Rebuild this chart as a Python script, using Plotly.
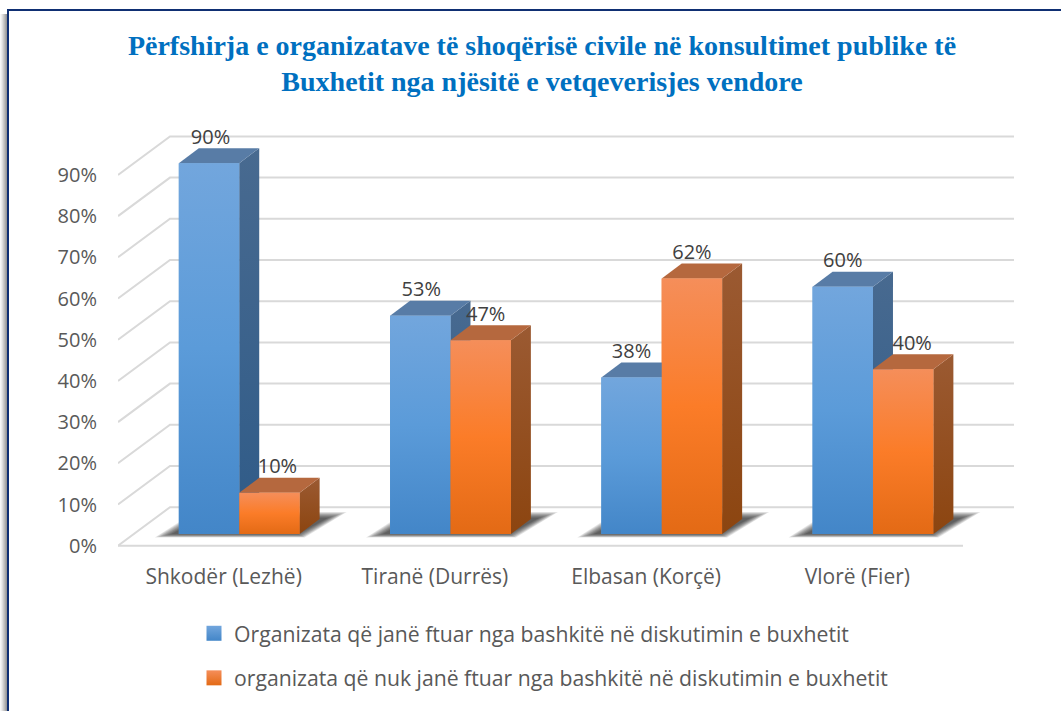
import plotly.graph_objects as go

categories = ["Shkodër (Lezhë)", "Tiranë (Durrës)", "Elbasan (Korçë)", "Vlorë (Fier)"]
invited = [90, 53, 38, 60]
not_invited = [10, 47, 62, 40]
y_ticks = [0, 10, 20, 30, 40, 50, 60, 70, 80, 90]
y_tick_labels = [f"{v}%" for v in y_ticks]
title_lines = ["Përfshirja e organizatave të shoqërisë civile në konsultimet publike të",
               "Buxhetit nga njësitë e vetqeverisjes vendore"]
name_invited = "Organizata që janë ftuar nga bashkitë në diskutimin e buxhetit"
name_not_invited = "organizata që nuk janë ftuar nga bashkitë në diskutimin e buxhetit"

W, H = 1061, 711
# scales (pixels per data unit) and pseudo-3D offsets
PX_X, PX_Y = 211.25, 4.12
FLOOR_L, FLOOR_Y = 118.0, 545.7
WALL_R = 1014.0
BAR_DX, BAR_DY = 15.6, 11.7        # bar plane relative to the front edge of the floor
WALL_DX, WALL_DY = 52.0, 38.5      # back wall relative to the front edge of the floor
DEPTH_DX, DEPTH_DY = 20.0, 15.0    # depth of the bars
BAR_W = 60.4 / PX_X
X0, X1 = -0.5, -0.5 + (WALL_R + 20 - FLOOR_L) / PX_X
Y0, Y1 = -2.0, 101.0

dom_x = lambda dx: [(FLOOR_L + dx) / W, (FLOOR_L + dx + (X1 - X0) * PX_X) / W]
dom_y = lambda dy: [(H - FLOOR_Y - (-Y0) * PX_Y + dy) / H, (H - FLOOR_Y + Y1 * PX_Y + dy) / H]

TEXT = "#595959"
GRID = "#d9d9d9"
LABEL = "#404040"
FONT = "Open Sans"
STY = {
    "blue": dict(front=["#4386c8", "#5b9bd9", "#72a6dd"], side=["#2f5b88", "#486a90"], top="#587ca6", solid="#5b9bd5"),
    "orange": dict(front=["#e36a15", "#fb7c28", "#f58e5a"], side=["#8c4510", "#9b5a32"], top="#b5683e", solid="#ed7d31"),
}
LABEL_NUDGE = {"blue": [1.5, 1, 0, 0], "orange": [8, 5, 0, 9]}

fig = go.Figure()

# ---- wall and floor grid, on the back axes
wx0 = X0 + WALL_DX / PX_X
wx1 = X0 + (WALL_R - FLOOR_L) / PX_X
wy = WALL_DY / PX_Y
gx, gy = [], []
for t in y_ticks:
    gx += [X0, wx0, wx1, None]
    gy += [t, t + wy, t + wy, None]
gx += [X0, X0 + (963 - FLOOR_L) / PX_X]
gy += [0, 0]
fig.add_trace(go.Scatter(x=gx, y=gy, mode="lines", line=dict(color=GRID, width=2),
                         showlegend=False, hoverinfo="skip", xaxis="x", yaxis="y"))

# ---- soft shadows on the floor
def shadow(i, g):
    c = i + BAR_DX / PX_X
    sy = BAR_DY / PX_Y
    bl = c - BAR_W - (7 + 17 * g) / PX_X
    br = c + BAR_W + (-2 + 7 * g) / PX_X
    tl = bl + (30 + 10 * g) / PX_X
    tr = br + (30 + 12 * g) / PX_X
    low = sy - 3.5 * g / PX_Y
    high = sy + (16 + 6 * g) / PX_Y
    return [bl, br, tr, tl, bl], [low, low, high, high, low]

STEPS = 10
for i in range(len(categories)):
    for k in range(STEPS):
        xs, ys = shadow(i, 1 - k / (STEPS - 1))
        fig.add_trace(go.Scatter(x=xs, y=ys, mode="lines", fill="toself", line=dict(width=0),
                                 fillcolor="rgba(30,30,30,0.11)", showlegend=False,
                                 hoverinfo="skip", xaxis="x", yaxis="y"))

# ---- bars on their own shifted axes
for name, vals, key, off in [(name_invited, invited, "blue", -0.5), (name_not_invited, not_invited, "orange", 0.5)]:
    s = STY[key]
    fig.add_trace(go.Bar(x=list(range(len(vals))), y=vals, name=name, marker=dict(color=s["solid"], line=dict(width=0)),
                         width=BAR_W, offset=(off - 0.5) * BAR_W, showlegend=False, xaxis="x2", yaxis="y2",
                         hovertemplate="%{y}%<extra></extra>"))

ddx, ddy = DEPTH_DX / PX_X, DEPTH_DY / PX_Y
for vals, key, off in [(invited, "blue", -0.5), (not_invited, "orange", 0.5)]:
    s = STY[key]
    for i, v in enumerate(vals):
        l = i + (off - 0.5) * BAR_W
        r = l + BAR_W
        fig.add_trace(go.Scatter(x=[r, r + ddx, r + ddx, r, r], y=[0, ddy, v + ddy, v, 0], mode="lines", fill="toself",
                                 line=dict(width=0), showlegend=False, hoverinfo="skip",
                                 fillgradient=dict(type="vertical", start=0, stop=v + ddy,
                                                   colorscale=[[0, s["side"][0]], [1, s["side"][1]]]),
                                 xaxis="x2", yaxis="y2"))
        fig.add_trace(go.Scatter(x=[l, r, r + ddx, l + ddx, l], y=[v, v, v + ddy, v + ddy, v], mode="lines", fill="toself",
                                 line=dict(width=0), fillcolor=s["top"], showlegend=False, hoverinfo="skip",
                                 xaxis="x2", yaxis="y2"))
        fig.add_trace(go.Scatter(x=[l, r, r, l, l], y=[0, 0, v, v, 0], mode="lines", fill="toself",
                                 line=dict(width=0), showlegend=False, hoverinfo="skip",
                                 fillgradient=dict(type="vertical", start=0, stop=v,
                                                   colorscale=[[0, s["front"][0]], [0.5, s["front"][1]], [1, s["front"][2]]]),
                                 xaxis="x2", yaxis="y2"))

# ---- value labels
for vals, key, off in [(invited, "blue", -0.5), (not_invited, "orange", 0.5)]:
    xs = [i + off * BAR_W + LABEL_NUDGE[key][i] / PX_X for i in range(len(vals))]
    ys = [v + 24.5 / PX_Y for v in vals]
    fig.add_trace(go.Scatter(x=xs, y=ys, mode="text", text=[f"{v}%" for v in vals], textposition="middle center",
                             textfont=dict(family=FONT, size=20, color=LABEL), showlegend=False, hoverinfo="skip",
                             cliponaxis=False, xaxis="x2", yaxis="y2"))

# ---- legend entries
for name, key, grp in [(name_invited, "blue", "a"), (name_not_invited, "orange", "b")]:
    s = STY[key]
    fig.add_trace(go.Scatter(x=[None], y=[None], mode="markers", name=name, legendgroup=grp,
                             marker=dict(symbol="square", size=15, color=s["front"][2], line=dict(width=0),
                                         gradient=dict(type="vertical", color=s["front"][0])),
                             xaxis="x2", yaxis="y2"))

# ---- frame of the picture
shapes = []
for k, gray in enumerate(["#f7f7f7", "#ececec", "#dddddd", "#cccccc", "#bcbcbc", "#aaaaaa", "#999999"]):
    shapes.append(dict(type="rect", xref="paper", yref="paper", x0=k / W, x1=(k + 1) / W, y0=0, y1=1 - 14 / H,
                       fillcolor=gray, line=dict(width=0), layer="below"))
shapes.append(dict(type="line", xref="paper", yref="paper", x0=8 / W, x1=8 / W, y0=0, y1=1 - 10 / H,
                   line=dict(color="#0f2f73", width=2), layer="below"))
shapes.append(dict(type="line", xref="paper", yref="paper", x0=7 / W, x1=1, y0=1 - 10 / H, y1=1 - 10 / H,
                   line=dict(color="#0f2f73", width=2), layer="below"))

axis_off = dict(showgrid=False, zeroline=False, showline=False, automargin=False)
fig.update_layout(
    width=W, height=H, margin=dict(l=0, r=0, t=0, b=0, autoexpand=False), autosize=False,
    paper_bgcolor="white", plot_bgcolor="rgba(0,0,0,0)", barmode="overlay",
    shapes=shapes, hovermode="closest",
    title=dict(text="<br>".join(title_lines), x=542 / W, xanchor="center", xref="paper", y=1 - 55 / H, yanchor="top", yref="container",
               font=dict(family="Liberation Serif", size=28, color="#0070c0", weight="bold")),
    xaxis=dict(domain=dom_x(0), range=[X0, X1], tickvals=list(range(len(categories))), ticktext=categories,
               ticks="outside", ticklen=4, tickcolor="rgba(0,0,0,0)", tickfont=dict(family=FONT, size=21, color=TEXT),
               anchor="y", **axis_off),
    yaxis=dict(domain=dom_y(0), range=[Y0, Y1], tickvals=y_ticks, ticktext=y_tick_labels,
               ticks="outside", ticklen=16, tickcolor="rgba(0,0,0,0)", tickfont=dict(family=FONT, size=20, color=TEXT),
               anchor="x", **axis_off),
    xaxis2=dict(domain=dom_x(BAR_DX), range=[X0, X1], showticklabels=False, anchor="y2", **axis_off),
    yaxis2=dict(domain=dom_y(BAR_DY), range=[Y0, Y1], showticklabels=False, anchor="x2", **axis_off),
    legend=dict(x=204 / W, xanchor="left", y=1 - 613 / H, yanchor="top", tracegroupgap=14, indentation=-10,
                orientation="v", font=dict(family=FONT, size=21.2, color=TEXT), bgcolor="rgba(0,0,0,0)", traceorder="grouped"),
)

fig.write_html("out.html", config=dict(displayModeBar=False),
               post_script="document.body.style.margin='0';document.body.style.overflow='hidden';")
